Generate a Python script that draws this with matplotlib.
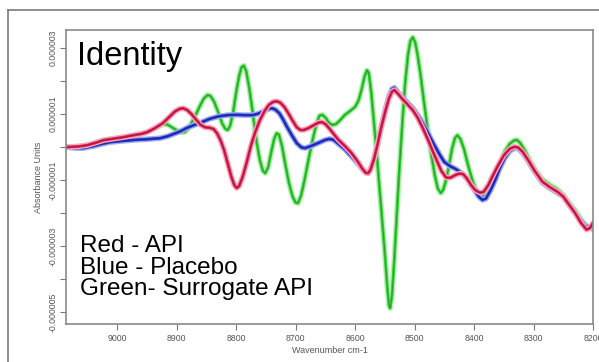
import matplotlib
matplotlib.use("Agg")
import matplotlib.pyplot as plt
from matplotlib.lines import Line2D

plt.rcParams["font.family"] = ["Liberation Sans", "DejaVu Sans"]

# values, in units of 1e-6 absorbance
wn_red = [9086, 9065, 9050, 9035, 9023, 9005, 8990, 8973, 8960, 8950, 8937, 8923,
          8912, 8903, 8895, 8889, 8882, 8875, 8868, 8860, 8852, 8845, 8838, 8832,
          8826, 8820, 8814, 8808, 8803, 8799, 8795, 8789, 8782, 8775, 8768, 8760,
          8752, 8745, 8738, 8732, 8726, 8719, 8712, 8705, 8698, 8692, 8686, 8678,
          8670, 8662, 8656, 8650, 8643, 8636, 8628, 8618, 8606, 8595, 8588, 8582,
          8578, 8574, 8568, 8562, 8556, 8549, 8543, 8538, 8534, 8528, 8520, 8512,
          8503, 8495, 8487, 8478, 8470, 8463, 8455, 8447, 8440, 8432, 8425, 8418,
          8412, 8405, 8398, 8390, 8384, 8376, 8368, 8360, 8350, 8340, 8332, 8326,
          8318, 8308, 8298, 8285, 8272, 8260, 8250, 8240, 8230, 8220, 8211, 8205, 8200]
red_api = [0.0, 0.02, 0.06, 0.14, 0.21, 0.26, 0.30, 0.36, 0.40, 0.45, 0.57, 0.73,
           0.92, 1.08, 1.16, 1.18, 1.12, 1.00, 0.85, 0.68, 0.60, 0.59, 0.55, 0.42,
           0.20, -0.10, -0.50, -0.90, -1.15, -1.24, -1.18, -0.90, -0.45, 0.05, 0.45, 0.82,
           1.10, 1.28, 1.37, 1.39, 1.35, 1.22, 1.02, 0.80, 0.60, 0.52, 0.52, 0.58,
           0.66, 0.74, 0.76, 0.70, 0.56, 0.40, 0.22, 0.05, -0.18, -0.45, -0.65, -0.78,
           -0.79, -0.68, -0.35, 0.10, 0.60, 1.10, 1.48, 1.68, 1.73, 1.62, 1.45, 1.30,
           1.12, 0.90, 0.61, 0.25, -0.10, -0.39, -0.72, -0.92, -0.93, -0.85, -0.80, -0.82,
           -0.95, -1.15, -1.30, -1.38, -1.36, -1.15, -0.85, -0.57, -0.25, -0.05, 0.01, -0.01,
           -0.15, -0.42, -0.72, -1.05, -1.22, -1.35, -1.5, -1.75, -2.0, -2.3, -2.5, -2.45, -2.3]

wn_blue = [9086, 9070, 9057, 9040, 9025, 9012, 8990, 8970, 8950, 8928, 8915, 8905,
           8895, 8883, 8872, 8861, 8852, 8844, 8830, 8815, 8800, 8785, 8772, 8762,
           8752, 8745, 8740, 8734, 8727, 8721, 8714, 8706, 8698, 8690, 8684, 8676,
           8668, 8660, 8650, 8643, 8636, 8628, 8618, 8606, 8595, 8588, 8582, 8578,
           8574, 8568, 8562, 8556, 8549, 8543, 8538, 8534, 8528, 8520, 8512, 8503,
           8492, 8480, 8468, 8458, 8450, 8440, 8430, 8420, 8410, 8400, 8392, 8386,
           8380, 8372, 8364, 8357, 8348, 8340, 8332, 8326, 8318, 8308, 8298, 8285,
           8272, 8260, 8250, 8240, 8230, 8220, 8211, 8205, 8200]
blue_placebo = [0.0, -0.03, -0.03, 0.03, 0.10, 0.15, 0.19, 0.22, 0.24, 0.27, 0.33, 0.40,
                0.47, 0.58, 0.66, 0.73, 0.80, 0.86, 0.93, 0.97, 0.98, 0.97, 0.97, 1.02,
                1.10, 1.16, 1.18, 1.14, 1.02, 0.84, 0.60, 0.35, 0.12, -0.01, -0.03, 0.02,
                0.08, 0.14, 0.22, 0.25, 0.22, 0.10, -0.05, -0.28, -0.50, -0.66, -0.77, -0.79,
                -0.68, -0.35, 0.10, 0.62, 1.15, 1.55, 1.76, 1.80, 1.66, 1.50, 1.35, 1.18,
                0.90, 0.52, 0.10, -0.22, -0.45, -0.58, -0.67, -0.80, -1.00, -1.28, -1.50, -1.60,
                -1.56, -1.30, -0.98, -0.65, -0.32, -0.12, -0.03, -0.04, -0.18, -0.45, -0.75, -1.08,
                -1.25, -1.38, -1.5, -1.75, -2.0, -2.25, -2.42, -2.4, -2.35]

wn_green = [9086, 9065, 9050, 9035, 9023, 9005, 8990, 8973, 8960, 8950, 8937, 8923,
            8915, 8906, 8898, 8892, 8886, 8880, 8873, 8866, 8860, 8854, 8848, 8843,
            8837, 8830, 8823, 8818, 8814, 8810, 8805, 8800, 8795, 8791, 8787, 8783,
            8778, 8772, 8766, 8760, 8755, 8751, 8746, 8741, 8736, 8732, 8728, 8723,
            8717, 8711, 8705, 8700, 8696, 8691, 8685, 8678, 8671, 8665, 8660, 8655,
            8649, 8644, 8638, 8632, 8625, 8617, 8608, 8600, 8594, 8589, 8584, 8580,
            8577, 8573, 8569, 8565, 8560, 8555, 8550, 8546, 8543, 8541, 8538, 8534,
            8530, 8526, 8521, 8516, 8511, 8507, 8503, 8499, 8495, 8490, 8484, 8478,
            8472, 8466, 8461, 8456, 8452, 8447, 8442, 8437, 8432, 8428, 8423, 8417,
            8410, 8402, 8395, 8388, 8381, 8374, 8366, 8357, 8348, 8340, 8333, 8328,
            8322, 8314, 8305, 8295, 8285, 8272, 8260, 8250, 8240, 8230, 8220, 8211, 8205, 8200]
green_surrogate = [0.0, 0.02, 0.06, 0.14, 0.21, 0.26, 0.30, 0.36, 0.40, 0.45, 0.57, 0.70,
                   0.68, 0.58, 0.49, 0.45, 0.46, 0.57, 0.80, 1.05, 1.28, 1.48, 1.58, 1.55,
                   1.38, 1.05, 0.70, 0.55, 0.52, 0.65, 1.05, 1.65, 2.15, 2.42, 2.47, 2.30,
                   1.80, 1.05, 0.20, -0.40, -0.72, -0.79, -0.60, -0.15, 0.25, 0.42, 0.38, 0.05,
                   -0.55, -1.10, -1.50, -1.68, -1.70, -1.48, -1.00, -0.35, 0.25, 0.70, 0.95, 0.98,
                   0.88, 0.74, 0.67, 0.70, 0.82, 0.98, 1.10, 1.22, 1.42, 1.75, 2.15, 2.33,
                   2.25, 1.70, 0.90, 0.10, -1.00, -2.10, -3.20, -4.20, -4.80, -4.88, -4.50, -3.40,
                   -2.10, -0.80, 0.60, 1.90, 2.80, 3.22, 3.33, 3.18, 2.80, 2.20, 1.35, 0.55,
                   -0.20, -0.85, -1.25, -1.39, -1.30, -1.00, -0.55, -0.05, 0.28, 0.36, 0.25, -0.05,
                   -0.55, -1.05, -1.38, -1.52, -1.45, -1.20, -0.88, -0.50, -0.12, 0.10, 0.20, 0.22,
                   0.12, -0.12, -0.45, -0.75, -0.98, -1.15, -1.28, -1.45, -1.70, -1.92, -2.2, -2.4, -2.45, -2.5]

x_ticks = [9000, 8900, 8800, 8700, 8600, 8500, 8400, 8300, 8200]
y_ticks = [-5, -4, -3, -2, -1, 0, 1, 2, 3]
y_tick_labels = ["-0.000005", "", "-0.000003", "", "-0.000001", "", "0.000001", "", "0.000003"]
legend_lines = ["Red - API", "Blue - Placebo", "Green- Surrogate API"]

SCALE = 1e-6
W, H = 599, 362
fig = plt.figure(figsize=(W / 100, H / 100), dpi=100)
ax = fig.add_axes([66 / W, 1 - 324 / H, (593 - 66) / W, (324 - 30) / H])

# each series: pale halo, main colour, thin dark core (bundle of replicates)
series = [
    (wn_green, green_surrogate, "#2fcf2f", "#b0f0b0", "#3a5a3a"),
    (wn_blue, blue_placebo, "#2233cc", "#a0acf0", "#141a60"),
    (wn_red, red_api, "#e01e50", "#f8a8c0", "#6a1020"),
]
for wn, vals, col, halo, core in series:
    y = [v * SCALE for v in vals]
    ax.plot(wn, y, color=halo, lw=4.0, solid_joinstyle="round", solid_capstyle="round")
    ax.plot(wn, y, color=col, lw=2.0, solid_joinstyle="round")
    ax.plot(wn, y, color=core, lw=0.5, alpha=0.6)

ax.set_xlim(9086, 8200)
ax.set_ylim(-5.36 * SCALE, 3.55 * SCALE)

ax.set_xticks(x_ticks)
ax.set_xticklabels([str(t) for t in x_ticks])
ax.set_yticks([t * SCALE for t in y_ticks])
ax.set_yticklabels(y_tick_labels, rotation=90, va="center")
ax.tick_params(axis="both", colors="#777777", labelcolor="#555555", labelsize=6.3,
               length=4, width=0.8, direction="out")
ax.tick_params(axis="y", pad=2)
ax.set_xlabel("Wavenumber cm-1", fontsize=6.5, color="#555555", labelpad=2)
ax.set_ylabel("Absorbance Units", fontsize=6.5, color="#555555", labelpad=4)
for sp in ax.spines.values():
    sp.set_color("#8a8a8a")
    sp.set_linewidth(1.2)

ax.text(77 / W, 1 - 57 / H, "Identity", transform=fig.transFigure, fontsize=23.5,
        va="center", ha="left", color="black")
for i, line in enumerate(legend_lines):
    ax.text(80 / W, 1 - (246 + 21.5 * i) / H, line, transform=fig.transFigure,
            fontsize=17.5, va="center", ha="left", color="black")

# outer frame of the original slide
fig.add_artist(Line2D([8 / W, 1], [1 - 10 / H, 1 - 10 / H], transform=fig.transFigure,
                      color="#7a7a7a", lw=1.2))
fig.add_artist(Line2D([8 / W, 8 / W], [0, 1 - 10 / H], transform=fig.transFigure,
                      color="#7a7a7a", lw=1.2))

fig.savefig("out.png", dpi=100)
